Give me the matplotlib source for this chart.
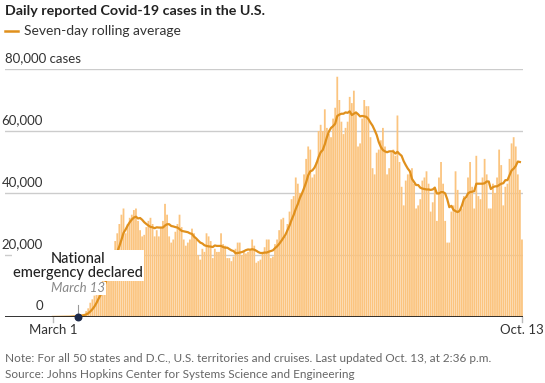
import numpy as np
import pandas as pd
import matplotlib.pyplot as plt

# daily reported cases, March 1 to Oct. 13
march = [10, 20, 25, 30, 70, 60, 120, 110, 170, 290, 270, 450, 600, 700, 800, 1000,
         1900, 2800, 4600, 5700, 6900, 9000, 10500, 10500, 13000, 17500, 18700, 19500,
         19200, 21000, 24500]
april = [27000, 30000, 33000, 35000, 27000, 30000, 32000, 33000, 34500, 35000, 31000,
         28000, 26000, 26500, 29000, 31000, 32000, 30000, 26000, 28000, 26000, 29000,
         31000, 36500, 33000, 26000, 24000, 25000, 27500, 30000]
may = [33000, 29000, 25000, 23000, 24000, 25000, 28500, 27000, 25000, 20000, 18500,
       22000, 21000, 27000, 26000, 24500, 19000, 22000, 21000, 21000, 27000, 23500,
       23000, 19000, 19000, 18000, 19500, 22000, 24000, 24000, 20000]
june = [21000, 20500, 21000, 21500, 25000, 23000, 17500, 18000, 18500, 21000, 22500,
        25000, 25000, 19000, 19500, 23500, 25000, 28000, 31500, 32000, 26000, 30000,
        34000, 38000, 39000, 45000, 43000, 40000, 40000, 46000]
july = [51000, 55000, 54000, 45000, 46000, 50000, 60000, 62000, 60000, 67000, 61000,
        59000, 58000, 64000, 67500, 77500, 70000, 63000, 59000, 61000, 63000, 71000,
        69000, 73000, 66000, 55000, 56000, 64000, 70000, 68000, 68000]
august = [58000, 48000, 46000, 53000, 54000, 57000, 61000, 55000, 46000, 48000, 53000,
          54000, 52000, 65000, 50000, 42000, 36000, 44000, 46000, 46000, 48000, 43000,
          35000, 36000, 38000, 44000, 45000, 47000, 43000, 34000, 37000]
september = [42000, 31000, 45000, 50000, 43000, 31000, 24000, 24000, 34000, 36000,
             47000, 41000, 34000, 35000, 39000, 38000, 45000, 50000, 42000, 35000,
             52000, 39000, 38000, 45000, 51000, 46000, 35000, 35000, 43000, 40000]
october = [45000, 54000, 49000, 36000, 42000, 43000, 51000, 56000, 58000, 55000, 46000,
           41000, 25000]

cases = march + april + may + june + july + august + september + october
days = np.arange(len(cases))
# last day is partial, the average stops the day before
avg = pd.Series(cases[:-1]).rolling(7, min_periods=1).mean()

y_ticks = [0, 20000, 40000, 60000, 80000]
y_labels = ["0", "20,000", "40,000", "60,000", "80,000 cases"]
emergency_day = 12  # March 13

W, H = 545, 383
fig = plt.figure(figsize=(W / 100, H / 100), dpi=100)
plt.rcParams['font.family'] = ['Lato', 'DejaVu Sans']

def fx(x):
    return x / W

def fy(y):
    return 1 - y / H

ax = fig.add_axes([fx(5), fy(317), fx(523) - fx(5), fy(69) - fy(317)])
ax.set_xlim(-23.1, 226.5)
ax.set_ylim(0, 80000)

bar_color = '#fbc47f'
line_color = '#e0901c'

bars = ax.bar(days, cases, width=0.86, color=bar_color, linewidth=0, zorder=2)
for b in bars:
    b.set_snap(False)
ax.plot(np.arange(len(avg)), avg, color=line_color, lw=1.6, zorder=3)

for v in y_ticks[1:]:
    ax.axhline(v, color='#cccccc', lw=1, zorder=1)
ax.axhline(0, color='#222222', lw=1.3, zorder=4)

for v, lab in zip(y_ticks, y_labels):
    ypix = 317 - v / 20000 * 62
    if lab.endswith('cases'):
        fig.text(fx(5), fy(ypix - 11), lab, ha='left', va='center', fontsize=9.5, color='#333333')
    else:
        fig.text(fx(43), fy(ypix - 11), lab, ha='right', va='center', fontsize=9.5, color='#333333',
                 bbox=dict(facecolor='white', edgecolor='none', pad=0.5))

for s in ax.spines.values():
    s.set_visible(False)
ax.set_xticks([])
ax.set_yticks([])
ax.patch.set_alpha(0)

# date labels
ax.plot([0, 0], [0, -1600], color='#bbbbbb', lw=1, clip_on=False)
ax.plot([226, 226], [0, -1600], color='#bbbbbb', lw=1, clip_on=False)
ax.text(0, -4200, "March 1", ha='center', va='center', fontsize=9.5, color='#333333')
ax.text(226, -4200, "Oct. 13", ha='center', va='center', fontsize=9.5, color='#333333')

# national emergency annotation
ax.plot([emergency_day, emergency_day], [0, 3800], color='#999999', lw=0.8, zorder=5)
ax.scatter([emergency_day], [0], s=22, color='#1d2a4a', zorder=6, clip_on=False)
ax.text(emergency_day, 16500, "National\nemergency declared", ha='center', va='center',
        fontsize=10.5, fontweight='medium', color='#222222', linespacing=1.05, zorder=7,
        bbox=dict(facecolor='white', edgecolor='none', pad=0.8))
ax.text(emergency_day, 9200, "March 13", ha='center', va='center', fontsize=9.5,
        style='italic', color='#888888', zorder=7,
        bbox=dict(facecolor='white', edgecolor='none', pad=0.5))

# title and legend
fig.text(fx(5), fy(11), "Daily reported Covid-19 cases in the U.S.", ha='left', va='center',
         fontsize=10.3, fontweight='bold', color='#222222')
fig.add_artist(plt.Line2D([fx(5), fx(18)], [fy(31), fy(31)], color=line_color, lw=1.8))
fig.text(fx(24), fy(31), "Seven-day rolling average", ha='left', va='center',
         fontsize=10, color='#333333')

fig.text(fx(5), fy(358), "Note: For all 50 states and D.C., U.S. territories and cruises. "
         "Last updated Oct. 13, at 2:36 p.m.", ha='left', va='center', fontsize=8.5, color='#666666')
fig.text(fx(5), fy(375), "Source: Johns Hopkins Center for Systems Science and Engineering",
         ha='left', va='center', fontsize=8.5, color='#666666')

fig.savefig('out.png', dpi=100)
